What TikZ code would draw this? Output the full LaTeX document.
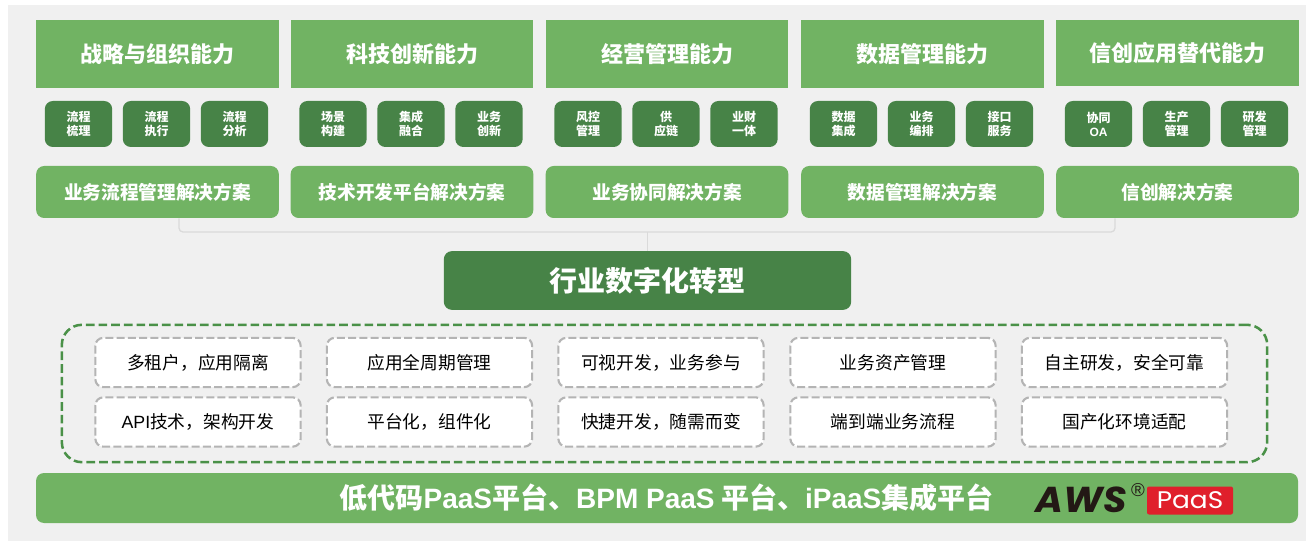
\documentclass[tikz,border=0pt]{standalone}
\usepackage{fontspec}
\setmainfont{Noto Sans CJK SC}
\newfontfamily\arialfont{Liberation Sans}
\newfontfamily\logofont{Poppins}
\definecolor{pagegray}{HTML}{F0F0F0}
\definecolor{leafgreen}{HTML}{71B363}
\definecolor{darkgreen}{HTML}{478347}
\definecolor{dashgreen}{HTML}{4A9148}
\definecolor{dashgray}{HTML}{B4B4B4}
\definecolor{linkgray}{HTML}{DADADA}
\definecolor{logored}{HTML}{E01F2B}
\definecolor{logoblack}{HTML}{231815}
\tikzset{
	headbox/.style={fill=leafgreen, text=white, font=\bfseries\fontsize{16.5}{20}\selectfont, minimum width=182pt, inner sep=0pt},
	itembox/.style={fill=darkgreen, text=white, rounded corners=6pt, align=center, font=\bfseries\fontsize{9}{10.5}\selectfont, minimum width=50.5pt, minimum height=34.5pt, inner sep=0pt},
	solbox/.style={fill=leafgreen, text=white, rounded corners=6pt, font=\bfseries\fontsize{14}{17}\selectfont, minimum width=182pt, minimum height=39pt, inner sep=0pt},
	tagbox/.style={draw=dashgray, fill=white, line width=1.6pt, dash pattern=on 6pt off 2.4pt, rounded corners=6pt, font=\fontsize{13.3}{16}\selectfont, minimum width=154pt, minimum height=37pt, inner sep=0pt}
}
\begin{document}
\begin{tikzpicture}[x=0.75pt, y=-0.75pt, line join=round, >=stealth]
	\useasboundingbox (0,0) rectangle (1306,541);
	\fill[pagegray] (8,5) rectangle (1306,541);
	\path
	(179,232) coordinate (busL)
	(1115,232) coordinate (busR);
	
	% five columns
	\foreach \n/\cx/\hy/\hh/\hd/\sol/\a/\b/\c in {
		1/157.5/54/51/战略与组织能力/业务流程管理解决方案/流程\\梳理/流程\\执行/流程\\分析,
		2/412/54/51/科技创新能力/技术开发平台解决方案/场景\\构建/集成\\融合/业务\\创新,
		3/667/54/51/经营管理能力/业务协同解决方案/风控\\管理/供\\应链/业财\\一体,
		4/922.5/54/51/数据管理能力/数据管理解决方案/数据\\集成/业务\\编排/接口\\服务,
		5/1177.5/53/49.5/信创应用替代能力/信创解决方案/协同\\{\arialfont OA}/生产\\管理/研发\\管理}
	{
		\node[headbox, minimum height=\hh pt] (head\n) at (\cx,\hy) {\hd};
		\node[itembox] (item\n a) at (\cx-79,124) {\a};
		\node[itembox] (item\n b) at (\cx-1,124) {\b};
		\node[itembox] (item\n c) at (\cx+77,124) {\c};
		\node[solbox] (sol\n) at (\cx,192) {\sol};
	}
	
	\node[fill=darkgreen, text=white, rounded corners=6pt, font=\bfseries\fontsize{21}{25}\selectfont, minimum width=305.5pt, minimum height=44pt, inner sep=0pt] (trans) at (647.5,280.5) {行业数字化转型};
	
	\draw[linkgray, line width=1pt, rounded corners=3pt] (sol1.south -| busL) -- (busL) -- (busR) -- (sol5.south -| busR);
	\draw[linkgray, line width=1pt] (trans.north) -- (trans.north |- busL);
	
	\node[draw=dashgreen, line width=1.9pt, dash pattern=on 6.5pt off 3pt, rounded corners=15pt, minimum width=904pt, minimum height=103pt, inner sep=0pt] (group) at (664.5,393.5) {};
	
	\foreach \n/\cx/\up/\down in {
		1/198/多租户，应用隔离/{\arialfont API}技术，架构开发,
		2/429.5/应用全周期管理/平台化，组件化,
		3/661/可视开发，业务参与/快捷开发，随需而变,
		4/893/业务资产管理/端到端业务流程,
		5/1124.5/自主研发，安全可靠/国产化环境适配}
	{
		\node[tagbox] (tag\n a) at (\cx,362.5) {\up};
		\node[tagbox] (tag\n b) at (\cx,422) {\down};
	}
	
	\node[fill=leafgreen, rounded corners=6pt, minimum width=946.5pt, minimum height=37.5pt, inner sep=0pt] (base) at (667,498) {};
	\node[text=white, font=\bfseries\fontsize{21}{25}\selectfont, inner sep=0pt] (baseText) at (666.5,498) {低代码{\arialfont PaaS}平台、{\arialfont BPM PaaS} 平台、{\arialfont iPaaS}集成平台};
	
	% logo
	\node[text=logoblack, font=\logofont\bfseries\itshape\fontsize{27}{27}\selectfont, inner sep=0pt] (awsText) at (1081,500) {\scalebox{1.05}[1]{AWS}};
	\node[text=logoblack, font=\arialfont\fontsize{14}{14}\selectfont, inner sep=0pt] (regMark) at (1138,490) {®};
	\node[fill=logored, text=white, rounded corners=1.5pt, font=\logofont\fontsize{18}{18}\selectfont, minimum width=64.5pt, minimum height=21pt, inner sep=0pt] (paasTag) at (1190,500.5) {\scalebox{1.1}[1]{PaaS}};
\end{tikzpicture}
\end{document}
